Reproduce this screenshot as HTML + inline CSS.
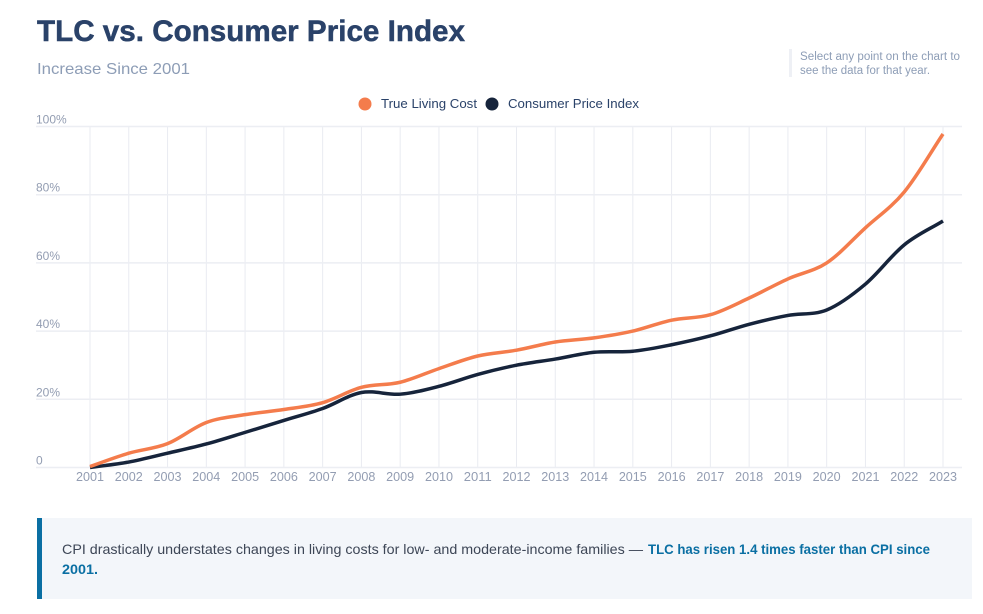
<!DOCTYPE html>
<html lang="en">
<head>
<meta charset="utf-8">
<title>TLC vs. Consumer Price Index</title>
<style>
html,body{margin:0;padding:0;background:#fff;width:983px;height:614px;overflow:hidden}
svg{display:block;font-family:"Liberation Sans",sans-serif}
</style>
</head>
<body>
<svg id="chart" width="983" height="614" viewBox="0 0 983 614" xmlns="http://www.w3.org/2000/svg">
  <text x="37" y="41" font-size="30" font-weight="700" fill="#2a4269" stroke="#2a4269" stroke-width="0.5" textLength="428" lengthAdjust="spacingAndGlyphs">TLC vs. Consumer Price Index</text>
  <text x="37" y="74" font-size="16" fill="#8d9db6" textLength="153" lengthAdjust="spacingAndGlyphs">Increase Since 2001</text>

  <rect x="789" y="49" width="3" height="28" fill="#eef0f5"/>
  <text x="800" y="60" font-size="11.5" fill="#8d9db6" textLength="160" lengthAdjust="spacingAndGlyphs">Select any point on the chart to</text>
  <text x="800" y="74" font-size="11.5" fill="#8d9db6" textLength="130" lengthAdjust="spacingAndGlyphs">see the data for that year.</text>

  <g>
    <circle cx="365" cy="104" r="6.5" fill="#f47c4c"/>
    <text x="381" y="108" font-size="13" fill="#2a4269" textLength="96" lengthAdjust="spacingAndGlyphs">True Living Cost</text>
    <circle cx="492" cy="104" r="6.5" fill="#16243b"/>
    <text x="508" y="108" font-size="13" fill="#2a4269" textLength="131" lengthAdjust="spacingAndGlyphs">Consumer Price Index</text>
  </g>

  <g id="grid-x"></g>
  <g id="grid-y"></g>
  <g id="labels-y"></g>
  <g id="labels-x"></g>
  <g id="series"></g>
  <g id="points"></g>

  <g>
    <rect x="37" y="518" width="935" height="81" fill="#f3f6fa"/>
    <rect x="37" y="518" width="5" height="81" fill="#0a6fa3"/>
    <text x="62" y="554" font-size="14" fill="#3d4656" textLength="581" lengthAdjust="spacingAndGlyphs">CPI drastically understates changes in living costs for low- and moderate-income families —</text>
    <text x="648" y="554" font-size="14" font-weight="700" fill="#0a6fa3" textLength="282" lengthAdjust="spacingAndGlyphs">TLC has risen 1.4 times faster than CPI since</text>
    <text x="62" y="574" font-size="14" font-weight="700" fill="#0a6fa3" textLength="36" lengthAdjust="spacingAndGlyphs">2001.</text>
  </g>
</svg>
<script>
const years = [2001,2002,2003,2004,2005,2006,2007,2008,2009,2010,2011,2012,2013,2014,2015,2016,2017,2018,2019,2020,2021,2022,2023];
const tlcValues = [0.3,4.2,7,13.2,15.5,17,19,23.5,25,29,32.7,34.4,36.8,38,40,43.2,44.8,49.7,55.3,60,70.3,80.8,97.8];
const cpiValues = [0,1.6,4.2,6.9,10.3,13.8,17.3,22,21.5,23.8,27.3,30,31.8,33.8,34.1,36,38.6,42,44.6,46.2,53.8,65.3,72.3];
const yTicks = [0,20,40,60,80,100];
const yTickLabels = ['0','20%','40%','60%','80%','100%'];

const NS = 'http://www.w3.org/2000/svg';
const xLeft = 90, xRight = 943, yBottom = 467.5, yTop = 126.5;
function xScale(i){ return xLeft + (xRight - xLeft) * i / (years.length - 1); }
function yScale(v){ return yBottom - (yBottom - yTop) * v / 100; }
function make(tag, attrs, parent){
  const el = document.createElementNS(NS, tag);
  for (const k in attrs) el.setAttribute(k, attrs[k]);
  parent.appendChild(el);
  return el;
}
// Catmull-Rom spline through every data point, for the soft curve of the original
function smoothPath(xs, ys){
  const n = xs.length, m = [];
  for (let i = 0; i < n; i++){
    const a = Math.max(i - 1, 0), b = Math.min(i + 1, n - 1);
    m.push((ys[b] - ys[a]) / (xs[b] - xs[a]));
  }
  let p = 'M' + xs[0].toFixed(2) + ',' + ys[0].toFixed(2);
  for (let i = 0; i < n - 1; i++){
    const h = (xs[i+1] - xs[i]) / 3;
    p += 'C' + (xs[i] + h).toFixed(2) + ',' + (ys[i] + m[i] * h).toFixed(2) + ' ' +
         (xs[i+1] - h).toFixed(2) + ',' + (ys[i+1] - m[i+1] * h).toFixed(2) + ' ' +
         xs[i+1].toFixed(2) + ',' + ys[i+1].toFixed(2);
  }
  return p;
}

const gridX = document.getElementById('grid-x');
const labelsX = document.getElementById('labels-x');
years.forEach((yr, i) => {
  const line = make('line', {x1: xScale(i), x2: xScale(i), y1: yTop, y2: yBottom, stroke: '#e9ebf1', 'stroke-width': 1}, gridX);
  
  
  const t = make('text', {x: xScale(i), y: 481, 'font-size': 12.5, fill: '#939db2', 'text-anchor': 'middle', textLength: 28, lengthAdjust: 'spacingAndGlyphs'}, labelsX);
  
  
  t.textContent = yr;
});

const gridY = document.getElementById('grid-y');
const labelsY = document.getElementById('labels-y');
yTicks.forEach((v, i) => {
  const line = make('line', {x1: 36, x2: 962, y1: yScale(v), y2: yScale(v), stroke: '#eceef3', 'stroke-width': 1.5}, gridY);
  
  
  const t = make('text', {x: 36, y: yScale(v) - 3, 'font-size': 12, fill: '#939db2'}, labelsY);
  
  
  t.textContent = yTickLabels[i];
});

const seriesGroup = document.getElementById('series');
const pointsGroup = document.getElementById('points');
const xPositions = years.map((_, i) => xScale(i));

const cpiLine = make('path', {d: smoothPath(xPositions, cpiValues.map(yScale)), fill: 'none', stroke: '#16243b', 'stroke-width': 3.5, 'stroke-linejoin': 'round'}, seriesGroup);


const tlcLine = make('path', {d: smoothPath(xPositions, tlcValues.map(yScale)), fill: 'none', stroke: '#f47c4c', 'stroke-width': 3.5, 'stroke-linejoin': 'round'}, seriesGroup);



years.forEach((yr, i) => {
  const a = make('circle', {cx: xScale(i), cy: yScale(tlcValues[i]), r: 6, fill: '#f47c4c', 'fill-opacity': 0}, pointsGroup);
  
  
  const b = make('circle', {cx: xScale(i), cy: yScale(cpiValues[i]), r: 6, fill: '#16243b', 'fill-opacity': 0}, pointsGroup);
  
  
});
</script>
</body>
</html>
